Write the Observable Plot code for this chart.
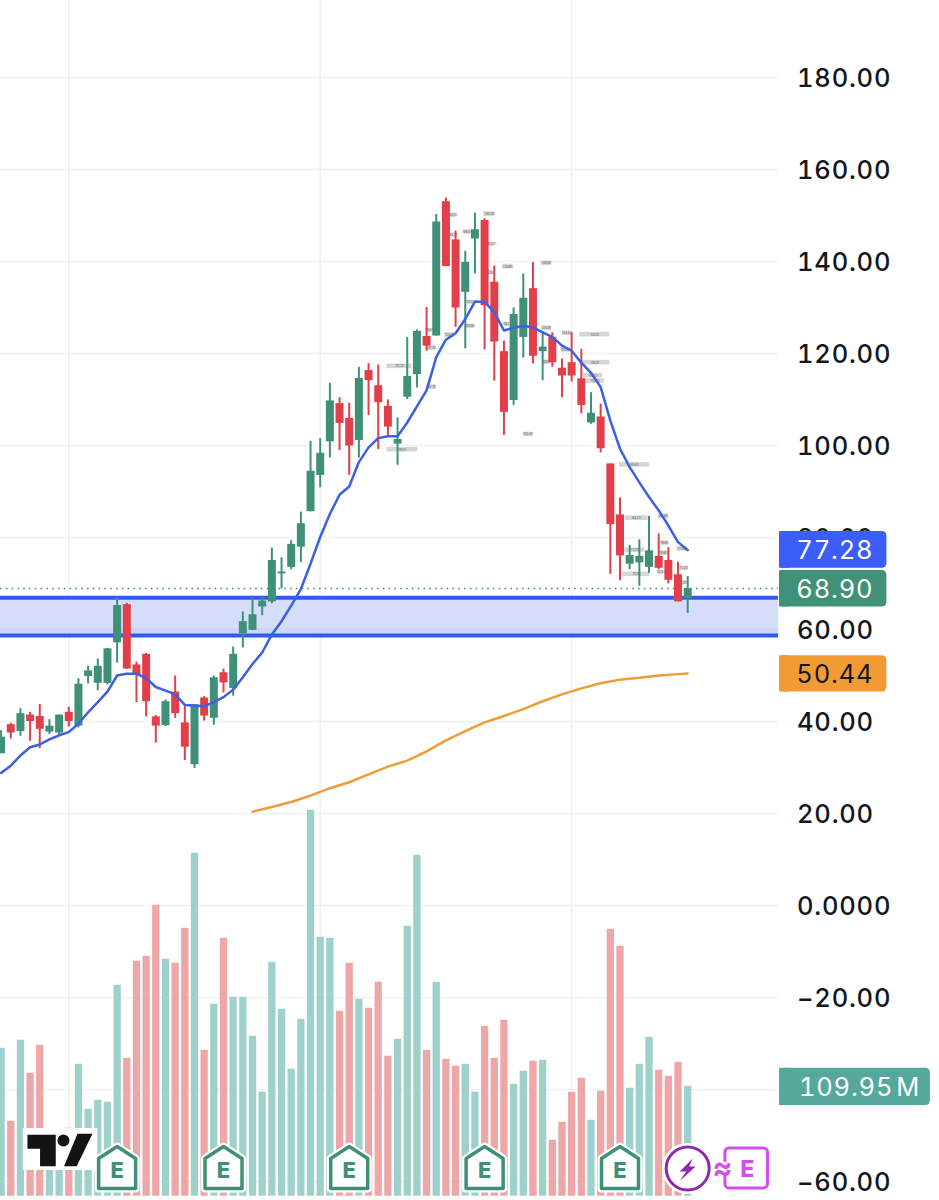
<!DOCTYPE html>
<html>
<head>
<meta charset="utf-8">
<script src="https://cdn.jsdelivr.net/npm/d3@7"></script>
<script src="https://cdn.jsdelivr.net/npm/@observablehq/plot@0.6"></script>
<style>
  html, body { margin: 0; padding: 0; background: #fff; }
  svg { display: block; }
  .big text { letter-spacing: 0.8px; }
</style>
</head>
<body>
<div id="chart"></div>
<script>
// ---- Candles (one value per bar, 72 bars) ----
const opens = [33,39.3,37.8,41.4,41.1,37.7,37.5,42,39,49.8,48.3,48.3,57.1,65.4,52.3,54.6,41,39.1,46.4,39.7,30.6,45.1,40.7,50.6,47.2,59.1,59.8,64.9,66,72.1,73.5,77.9,85.6,93.5,100.8,109.1,105.9,101.1,116.3,113,108.5,100.3,110.5,115.4,123.7,123.8,153,144.7,133.3,144.9,148.9,135.5,120.4,109.8,123.5,134.1,120.4,123.5,116.8,118,114.5,104.9,106.2,96,84.9,74.2,74.5,73.5,75.9,75,71.9,66.7];
const highs = [38,39.6,42.8,42,43.7,40.4,41.4,43.1,49.3,52,53.6,55.9,66.9,65.7,52.9,54.8,41.3,44.7,49.9,43.5,43.6,45.4,49.9,51.4,56.2,63.8,67,67,77.7,75.6,79.3,85.5,100.9,101.5,113.5,110.4,109.2,117,117.8,117.5,109.9,106,123.5,125.1,130,150.2,153.8,146.6,142.2,150.5,149.3,139,122.7,129.9,137.3,139.8,124.8,124.5,118.8,124.5,120.9,111.5,109,96,88.6,78.3,79.5,84.6,80.8,77.8,74.6,71.5];
const lows = [33,36.2,36.8,35.7,34.1,37.2,37,38.8,38.6,48.2,46.7,48,52.7,51.4,44.1,41,35.3,38.9,40.7,31.5,29.8,40.1,39.2,46.2,45.5,56,59.8,63,65.6,68.8,73,74.5,85.6,90.8,97.3,98.9,93.5,97.3,106.5,99.1,102,95.7,110,112.5,120.5,123.8,138.9,125.7,121,137.3,120.8,114,102.2,108.7,119,117.75,114.1,117,110.4,113.8,106.9,104.6,98.4,72,70.6,73,69.4,72.2,73,69.9,66,63.5];
const closes = [36.6,37.5,41.7,40,38.3,39,41.4,40,48.1,51,52,55.8,65.2,51.4,50,44.3,39,44.3,41.7,34.4,43.6,41.2,49.5,48.4,54.6,61.7,63.2,66.2,75,72.5,78.5,83,94.4,98.3,109.7,104.8,99.9,114.6,114.1,109.3,104,101.3,115,124.8,121.6,148.6,138.9,129.9,139.8,146.9,130.4,122.5,107.2,128.5,132,119.4,121.4,118,115.1,115.1,108.7,107,99.3,82.8,76,76.1,75.9,77.1,73.3,70.7,66,68.9];
// Volume per bar, millions
const volumes = [148,75,156,123,151,52,56,68,132,87,96,94,211,138,235,240,291,237,233,268,343,146,192,258,199,199,160,104,234,187,127,177,386,259,258,185,233,197,188,214,140,157,270,341,146,214,137,130,132,104,170,138,176,112,125,135,136,56,74,104,118,76,105,267,250,108,132,159,126,120,134,109.95];
// Blue moving average, one value per bar
const fastAverage = [28.8,30.4,32.6,34.4,35,36.1,37,37.7,39.5,42,44.2,46.5,50,50.4,50.4,49.4,47.5,46.7,45.9,43.6,43.5,43.3,44.2,45.3,46.9,49.6,52.5,55,58.9,61.8,65.2,68.8,74.3,80.1,85.1,89.3,91.1,96.4,99.6,101.6,102,102,105,108.5,112,119.2,123,124.4,127.5,131.3,131.2,129,125,125.6,126,125.7,124.6,123.6,121.7,120.6,118,115.8,112.7,105.4,99.3,95.3,92,88.8,85.9,82.6,79,77.28];
// Orange moving average, read at these bars
const slowBars = [26,28,30,32,34,36,38,40,42,44,46,48,50,52,54,56,58,60,62,64,66,68,70,71];
const slowAverage = [20.4,21.4,22.5,23.9,25.5,26.8,28.5,30.2,31.5,33.5,35.9,37.9,39.8,41.2,42.7,44.4,45.9,47.2,48.3,49.1,49.5,50,50.3,50.44];
// Small grey annotation tags on the price pane
const noteBars = [41.2,41.5,46.7,50.5,48.2,50.7,46.7,52.4,56.4,50.6,48.5,48.5,46.4,44.3,44.5,44.5,52.3,56.4,58.5,61.4,58.4,61.4,56.4,61.2,61.4,54.5,65.5,65.7,68.5,65.5,65.7,68.6,68.5,68.2,70.4,70.6,70.5];
const notePrices = [117.2,99.1,150,150.3,146.4,143.7,145.7,138.9,139.6,137.6,131.1,125.9,124,125,121.2,112.7,126.3,125.5,124.4,124.1,120.8,118,118.1,115.2,114,102.4,95.8,84.2,84.6,77.2,72,78.8,76.6,72.4,77.5,73.3,70.2];
const noteSpans = [2.6,3.2,0.7,1.2,0.7,0.6,0.5,1.1,1.1,0.5,0.6,0.9,1,0.5,0.9,1,0.5,1,0.9,3.1,0.9,3.1,0.6,2,2,1,3.1,2.4,1.1,2.1,2.8,0.8,0.7,0.5,1,0.9,0.7];
// Axis and levels
const priceTicks = [180,160,140,120,100,80,60,40,20,0,-20,-40,-60];
const tickText = ["180.00","160.00","140.00","120.00","100.00","80.00","60.00","40.00","20.00","0.0000","\u221220.00","\u221240.00","\u221260.00"];
const gridBars = [7,33,59];
const zoneLevels = [66.9,58.7];
const zoneBandTop = 60.2;
const lastClose = 68.9;
const earningsBars = [12,23,36,50,64];
const fastLabel = "77.28", closeLabel = "68.90", slowLabel = "50.44", volumeLabel = "109.95\u200AM";

// ---- Derived tables ----
const bars = opens.map((o,i)=>({i,o,h:highs[i],l:lows[i],c:closes[i],v:volumes[i],up:closes[i]>=o,ma:fastAverage[i]}));
const slow = slowBars.map((i,k)=>({i,v:slowAverage[k]}));
const notes = noteBars.map((i,k)=>({i,p:notePrices[k],w:noteSpans[k]}));

// ---- Style ----
const GREEN="#3f9078", RED="#e1404a", VTEAL="#9fd1cc", VRED="#eea7a6", BLUE="#3d5fe3", ZONE="#d5ddfa", ZBAND="#cdd6f8", ZLINE="#2f5bf2", GRID="#f1f1f4", ORANGE="#ee9c38", PURPLE="#8e2aaa", PINK="#d24df0";
const FONT="Inter, 'Liberation Sans', sans-serif";
const xStart = -0.06;           // left edge of the panes, in bars
const paneEnd = 80.4;           // right edge of the panes, in bars
const volBase = -63.2;          // foot of the volume bars, on the price scale
const volUnit = 1/4.6;          // price units per million of volume

// ---- Icons ----
const polygon = (c,pts)=>{pts.forEach(([x,y],k)=>k?c.lineTo(x,y):c.moveTo(x,y));c.closePath();};
const house = {draw(c){polygon(c,[[0,-22],[18.5,-10],[18.5,20],[-18.5,20],[-18.5,-10]]);}};
const bolt = {draw(c){polygon(c,[[5,-10],[-8,3],[-1.5,3],[-8,12.5],[8,-2],[1.5,-2]]);}};
const tvMark = {draw(c){
  polygon(c,[[-33.3,-14.7],[-5,-14.7],[-5,16.7],[-20.7,16.7],[-20.7,-0.7],[-33.3,-0.7]]);
  polygon(c,[[16.7,-15.7],[31.7,-15.7],[16,16.7],[3.3,16.7]]);
  c.moveTo(8.7,-9); c.arc(2.7,-9,6,0,2*Math.PI);
}};
const iconY = -57.17;

const tag = (x2,y1,y2,fill)=>[
  Plot.rect([0],{x1:()=>80.5,x2:()=>x2,y1:()=>y1,y2:()=>y2,fill,rx:4.5}),
  Plot.rect([0],{x1:()=>80.5,x2:()=>81.5,y1:()=>y1,y2:()=>y2,fill})
];
const tagText = (label,x,y,fill,anchor)=>Plot.text([label],{x:()=>x,y:()=>y,text:d=>d,fill,textAnchor:anchor,fontSize:25.5,fontFamily:FONT,fontWeight:400,fontVariant:"tabular-nums",dy:1,className:"big"});

const chart = Plot.plot({
  width:939, height:1200,
  marginTop:0, marginBottom:0, marginLeft:0, marginRight:161,
  style:{background:"#fff",fontFamily:FONT},
  x:{type:"linear",domain:[xStart,80.39],axis:null},
  y:{type:"linear",domain:[-64.13,196.74],axis:null},
  marks:[
    // grid
    Plot.ruleY(priceTicks,{x1:xStart,x2:paneEnd,stroke:GRID,strokeWidth:1.5}),
    Plot.ruleX(gridBars,{y1:volBase,y2:196.74,stroke:GRID,strokeWidth:1.5}),
    // volume pane
    Plot.ruleX(bars,{x:"i",y1:()=>volBase,y2:d=>volBase+d.v*volUnit,stroke:d=>d.up?VTEAL:VRED,strokeWidth:7.3}),
    // zone between two levels
    Plot.rect([zoneLevels],{x1:()=>xStart,x2:()=>paneEnd,y1:d=>d[0],y2:d=>d[1],fill:ZONE}),
    Plot.rect([zoneLevels],{x1:()=>xStart,x2:()=>paneEnd,y1:()=>zoneBandTop,y2:d=>d[1],fill:ZBAND}),
    Plot.ruleY(zoneLevels,{x1:xStart,x2:paneEnd,stroke:ZLINE,strokeWidth:4}),
    Plot.ruleY([lastClose],{x1:xStart,x2:paneEnd,stroke:GREEN,strokeWidth:1.6,strokeDasharray:"1.6 4.2"}),
    // small notes
    Plot.rect(notes,{x1:d=>d.i-d.w/2,x2:d=>d.i+d.w/2,y1:d=>d.p-0.5,y2:d=>d.p+0.5,fill:"#d6d7d3"}),
    Plot.text(notes,{x:"i",y:"p",text:d=>d.p.toFixed(2),fontSize:3,fill:"#555",fontFamily:FONT}),
    // candles
    Plot.ruleX(bars,{x:"i",y1:"l",y2:"h",stroke:d=>d.up?GREEN:RED,strokeWidth:2}),
    Plot.ruleX(bars,{x:"i",y1:"o",y2:"c",stroke:d=>d.up?GREEN:RED,strokeWidth:8}),
    // averages
    Plot.line(bars,{x:"i",y:"ma",stroke:BLUE,strokeWidth:2.5}),
    Plot.line(slow,{x:"i",y:"v",stroke:ORANGE,strokeWidth:2.5}),
    // axis
    Plot.axisY({anchor:"right",ticks:priceTicks,tickFormat:v=>tickText[priceTicks.indexOf(v)],tickSize:0,tickPadding:18.5,dy:1,label:null,fontSize:25.5,fontWeight:500,fill:"#131722",className:"big"}),
    // right tags
    ...tag(91.6,81.3,73.3,"#3b5efb"),
    tagText(fastLabel,90.2,77.3,"#fff","end"),
    ...tag(91.6,72.8,64.9,"#3f9278"),
    tagText(closeLabel,90.2,68.85,"#fff","end"),
    ...tag(91.6,54.3,46.4,"#f29b35"),
    tagText(slowLabel,90.2,50.4,"#131722","end"),
    ...tag(96.1,-35.4,-43.5,"#57a89c"),
    tagText(volumeLabel,82.5,-39.5,"#fff","start"),
    // logo
    Plot.rect([0],{x1:()=>2.3,x2:()=>10,y1:()=>-48.5,y2:()=>-57.6,fill:"#fff"}),
    Plot.dot([0],{x:()=>6.17,y:()=>-53.04,symbol:tvMark,fill:"#131313",stroke:"none"}),
    // earnings flags
    Plot.dot(earningsBars,{x:d=>d,y:()=>iconY,symbol:house,fill:"#fff",stroke:"#fff",strokeWidth:8,strokeLinejoin:"round"}),
    Plot.dot(earningsBars,{x:d=>d,y:()=>iconY,symbol:house,fill:"#fff",stroke:GREEN,strokeWidth:3.5,strokeLinejoin:"round"}),
    Plot.text(earningsBars,{x:d=>d,y:()=>iconY,text:()=>"E",fill:GREEN,fontSize:22,fontWeight:800,fontFamily:FONT,dy:2}),
    // upcoming dividends / earnings marks
    Plot.dot([71],{x:d=>d,y:()=>iconY,r:22,fill:"#fff",stroke:"#fff",strokeWidth:7}),
    Plot.dot([71],{x:d=>d,y:()=>iconY,r:21.5,fill:"#fff",stroke:PURPLE,strokeWidth:3}),
    Plot.dot([71],{x:d=>d,y:()=>iconY,symbol:bolt,fill:PURPLE,stroke:"none"}),
    Plot.rect([0],{x1:()=>74.9,x2:()=>79.3,y1:()=>-52.8,y2:()=>-61.5,fill:"#fff",stroke:PINK,strokeWidth:3,rx:4}),
    Plot.text(["E"],{x:()=>77.15,y:()=>iconY,text:d=>d,fill:PINK,fontSize:23,fontWeight:800,fontFamily:FONT,dy:1}),
    Plot.dot([0],{x:()=>74.7,y:()=>iconY,r:7,fill:"#fff",stroke:"none"}),
    Plot.text(["\u2248"],{x:()=>74.6,y:()=>iconY,text:d=>d,fill:PINK,fontSize:30,fontWeight:700,fontFamily:FONT})
  ]
});
document.getElementById("chart").appendChild(chart);
</script>
</body>
</html>
